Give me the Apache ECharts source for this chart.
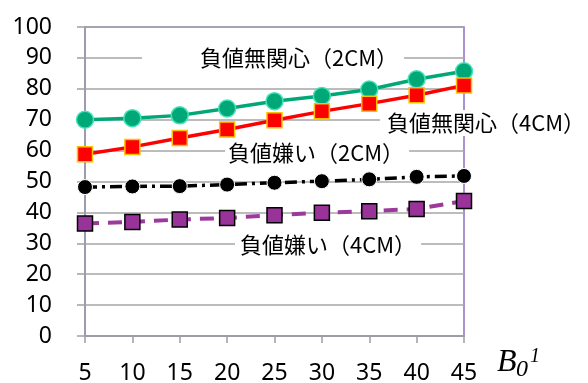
<!DOCTYPE html>
<html>
<head>
<meta charset="utf-8">
<script src="https://cdn.jsdelivr.net/npm/echarts@6/dist/echarts.min.js"></script>
<style>
html,body{margin:0;padding:0;background:#fff;}
#main{width:588px;height:383px;}
</style>
</head>
<body>
<div id="main"></div>
<script>
var categories = ['5','10','15','20','25','30','35','40','45'];
var yTicks = [0,10,20,30,40,50,60,70,80,90,100];
var seriesNames = ['負値無関心（2CM）','負値無関心（4CM）','負値嫌い（2CM）','負値嫌い（4CM）'];
var muKanshin2 = [70.0, 70.5, 71.4, 73.6, 76.0, 77.7, 79.8, 83.1, 85.7];
var muKanshin4 = [58.8, 61.2, 64.1, 66.8, 69.8, 72.7, 75.2, 77.9, 81.1];
var kirai2 = [48.2, 48.4, 48.5, 49.0, 49.6, 50.1, 50.7, 51.5, 51.8];
var kirai4 = [36.4, 36.9, 37.7, 38.2, 39.1, 39.9, 40.4, 41.1, 43.7];

var chart = echarts.init(document.getElementById('main'));
var cjkFont = '"Noto Sans CJK JP", sans-serif';
var numFont = '"Noto Sans", sans-serif';
function lbl(text, x, y, pad) {
  return {
    type: 'text', x: x, y: y, z: 1,
    style: {
      text: text, fontFamily: cjkFont, fontSize: 22, fill: '#000',
      align: 'left', verticalAlign: 'middle',
      backgroundColor: '#fff', padding: pad
    }
  };
}
function sym(text, x, y, size) {
  return { type: 'text', x: x, y: y, z: 5,
    style: { text: text, fontFamily: '"Liberation Serif", serif', fontStyle: 'italic',
      fontSize: size, fill: '#000', align: 'left', verticalAlign: 'middle' } };
}
chart.setOption({
  animation: false,
  backgroundColor: '#fff',
  grid: {
    left: 85, right: 124, top: 27, bottom: 47,
    containLabel: false, outerBoundsMode: 'none',
    show: true, borderColor: '#8E6FC0', borderWidth: 1.5, backgroundColor: 'transparent'
  },
  xAxis: {
    type: 'category', data: categories, boundaryGap: false,
    axisLine: { lineStyle: { color: '#9C9CA4', width: 1.5 } },
    axisTick: { show: true, length: 7, lineStyle: { color: '#9C9CA4', width: 1.5 } },
    axisLabel: { color: '#000', fontFamily: numFont, fontSize: 23, margin: 26 }
  },
  yAxis: {
    type: 'value', min: 0, max: 100, interval: 10,
    axisLine: { show: true, lineStyle: { color: '#9C9CA4', width: 1.5 } },
    axisTick: { show: true, length: 8, lineStyle: { color: '#A0A0A0', width: 1.5 } },
    axisLabel: { color: '#000', fontFamily: numFont, fontSize: 23, margin: 33,
      formatter: function (v) { return yTicks.indexOf(v) >= 0 ? String(v) : ''; } },
    splitLine: { lineStyle: { color: '#A6A6A6', width: 1.5 } }
  },
  series: [
    { name: seriesNames[0], type: 'line', data: muKanshin2, symbol: 'circle', symbolSize: 17,
      lineStyle: { color: '#00A878', width: 3.5 },
      itemStyle: { color: '#00A878', borderColor: '#45E3B8', borderWidth: 1.5 }, z: 4 },
    { name: seriesNames[1], type: 'line', data: muKanshin4, symbol: 'rect', symbolSize: 15,
      lineStyle: { color: '#FF0000', width: 3.5 },
      itemStyle: { color: '#FF0000', borderColor: '#FFC000', borderWidth: 1.5 }, z: 4 },
    { name: seriesNames[2], type: 'line', data: kirai2, symbol: 'circle', symbolSize: 15,
      lineStyle: { color: '#000', width: 3.5, type: [12, 5, 3, 5] },
      itemStyle: { color: '#000', borderColor: '#fff', borderWidth: 1 }, z: 4 },
    { name: seriesNames[3], type: 'line', data: kirai4, symbol: 'rect', symbolSize: 15,
      lineStyle: { color: '#9C3A9C', width: 4, type: [14, 9] },
      itemStyle: { color: '#993399', borderColor: '#000', borderWidth: 1.5 }, z: 4 }
  ],
  graphic: [
    lbl(seriesNames[0], 142, 58, [2, 6, 2, 58]),
    lbl(seriesNames[1], 380, 123, [2, 8, 2, 7]),
    lbl(seriesNames[2], 225, 153, [2, 5, 2, 3]),
    lbl(seriesNames[3], 235, 245, [2, 5, 2, 5]),
    sym('B', 497, 363, 32),
    sym('0', 516, 370, 24),
    sym('1', 530, 357, 20)
  ]
});
</script>
</body>
</html>
